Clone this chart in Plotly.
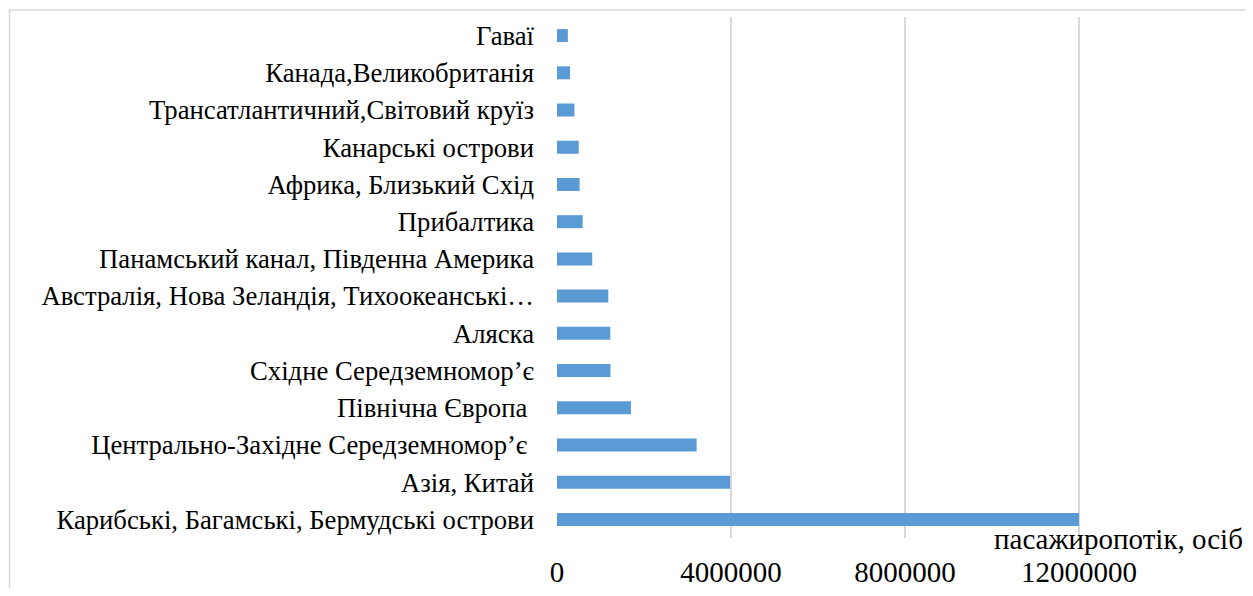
import plotly.graph_objects as go

categories = [
    "Карибські, Багамські, Бермудські острови",
    "Азія, Китай",
    "Центрально-Західне Середземномор’є\u00a0",
    "Північна Європа\u00a0",
    "Східне Середземномор’є",
    "Аляска",
    "Австралія, Нова Зеландія, Тихоокеанські…",
    "Панамський канал, Південна Америка",
    "Прибалтика",
    "Африка, Близький Схід",
    "Канарські острови",
    "Трансатлантичний,Світовий круїз",
    "Канада,Великобританія",
    "Гаваї",
]
passengers = [12000000, 3980000, 3210000, 1700000, 1230000, 1225000, 1180000,
              810000, 590000, 520000, 500000, 400000, 300000, 250000]
tick_vals = [0, 4000000, 8000000, 12000000]
tick_text = ["0", "4000000", "8000000", "12000000"]
axis_title = "пасажиропотік, осіб"

# page has an 8px body margin; figure occupies page (8..1253, 8..588)
OFF = 8
W, H = 1245, 580
ML, MR, MT, MB = 557 - OFF, 0, 17 - OFF, 580 - (547 - OFF)
pw = W - ML - MR
ph = H - MT - MB
XMAX = 4000000 * pw / 174.0

def px_x(p):
    return (p - OFF - ML) / pw

def px_y(p):
    return (H - MB - (p - OFF)) / ph

fig = go.Figure(go.Bar(
    x=passengers, y=categories, orientation="h",
    marker=dict(color="#5b9bd5", line=dict(width=0)),
    width=0.35,
))

fig.update_layout(
    width=W, height=H,
    margin=dict(l=ML, r=MR, t=MT, b=MB, pad=0),
    paper_bgcolor="white", plot_bgcolor="white",
    font=dict(family="Liberation Serif", color="#000000"),
    showlegend=False,
    xaxis=dict(
        range=[0, XMAX], tickvals=tick_vals, ticktext=tick_text,
        showgrid=True, gridcolor="#d9d9d9", gridwidth=1.5,
        zeroline=False, showline=False, ticks="",
        tickfont=dict(size=29), ticklabelstandoff=14,
    ),
    yaxis=dict(
        categoryorder="array", categoryarray=categories,
        showgrid=False, zeroline=False, showline=False, ticks="",
        tickfont=dict(size=26.7), ticklabelstandoff=22,
        range=[-0.5, len(categories) - 0.5],
    ),
    shapes=[
        dict(type="rect", xref="paper", yref="paper",
             x0=px_x(9.5), x1=px_x(1251.5), y0=px_y(620), y1=px_y(10),
             line=dict(color="#d9d9d9", width=1.5),
             fillcolor="rgba(0,0,0,0)", layer="below"),
    ],
    annotations=[dict(
        text=axis_title, xref="paper", yref="paper",
        x=px_x(1245), y=px_y(548), xanchor="right", yanchor="middle",
        showarrow=False, font=dict(size=29),
    )],
)

fig.write_html("out.html")
